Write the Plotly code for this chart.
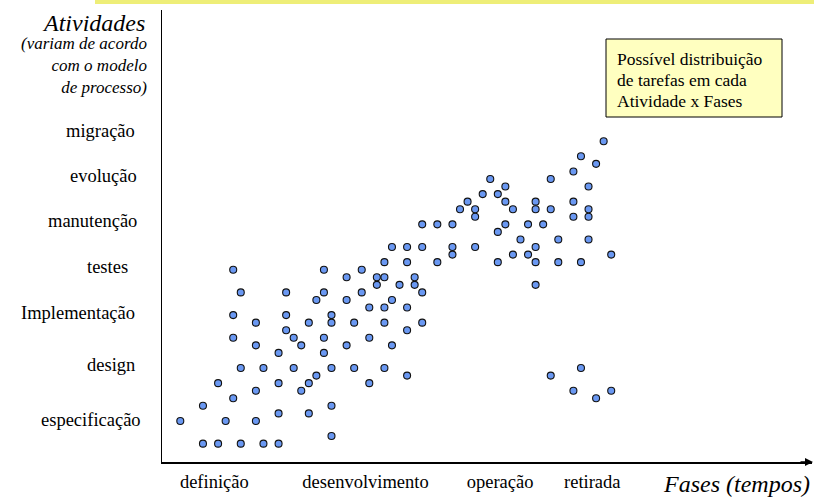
import plotly.graph_objects as go

# ---- data (grid units: phase time on x, activity level on y) ----
phase_time = [3, 5, 8, 11, 13,
              20,
              0, 6, 10,
              13, 17,
              3, 20,
              7, 55,
              10, 16, 52, 57,
              5, 13, 17, 25,
              18, 30, 49,
              8, 11, 15, 20, 23, 27, 53,
              13, 19,
              10, 16, 22, 28,
              7, 15, 19, 25,
              14, 30,
              10, 17, 20, 23, 27, 32,
              7, 14, 20,
              25, 27, 30,
              18, 22, 28,
              8, 14, 19, 24, 32,
              26, 29, 31, 47,
              22, 26, 27, 31,
              7, 19, 24,
              27, 30, 34, 42, 47, 50, 53,
              36, 44, 46, 57,
              28, 30, 32, 36, 39, 47,
              45, 50, 54,
              42,
              32, 34, 36, 43, 46, 48,
              39, 52, 54,
              37, 39, 44, 47, 49, 54,
              38, 43, 47, 52,
              40, 42,
              43, 54,
              41, 49,
              52,
              55,
              53,
              56]
activity = [0, 0, 0, 0, 0,
            1,
            3, 3, 3,
            4, 4,
            5, 5,
            6, 6,
            7, 7, 7, 7,
            8, 8, 8, 8,
            9, 9, 9,
            10, 10, 10, 10, 10, 10, 10,
            12, 12,
            13, 13, 13, 13,
            14, 14, 14, 14,
            15, 15,
            16, 16, 16, 16, 16, 16,
            17, 17, 17,
            18, 18, 18,
            19, 19, 19,
            20, 20, 20, 20, 20,
            21, 21, 21, 21,
            22, 22, 22, 22,
            23, 23, 23,
            24, 24, 24, 24, 24, 24, 24,
            25, 25, 25, 25,
            26, 26, 26, 26, 26, 26,
            27, 27, 27,
            28,
            29, 29, 29, 29, 29, 29,
            30, 30, 30,
            31, 31, 31, 31, 31, 31,
            32, 32, 32, 32,
            33, 33,
            34, 34,
            35, 35,
            36,
            37,
            38,
            40]

activity_labels = ["especificação", "design", "Implementação", "testes",
                   "manutenção", "evolução", "migração"]
activity_levels = [3.1, 10.4, 17.3, 23.4, 29.4, 35.4, 41.4]

phase_labels = ["definição", "desenvolvimento", "operação", "retirada"]
phase_levels = [4.5, 24.5, 42.3, 54.5]

note_lines = ["Possível distribuição", "de tarefas em cada", "Atividade x Fases"]

# layout helpers (pixel positions of page elements)
W, H = 814, 498
L, R, T, B = 162, 2, 10, 36
PW, PH = W - L - R, H - T - B
label_right_px = [143, 137, 137, 130, 139, 139, 137]


def px(p):
    return (p - L) / PW


def py(p):
    return (H - B - p) / PH


SERIF = "Liberation Serif, Times New Roman, serif"
FS = 18.5

fig = go.Figure()
fig.add_trace(go.Scatter(
    x=phase_time, y=activity, mode="markers",
    marker=dict(size=7, color="#6A98F2", line=dict(color="#111111", width=1.1)),
    showlegend=False, hoverinfo="skip"))

fig.update_layout(
    width=W, height=H,
    margin=dict(l=L, r=R, t=T, b=B, autoexpand=False),
    paper_bgcolor="white", plot_bgcolor="white",
    font=dict(family=SERIF, size=FS, color="black"),
    xaxis=dict(range=[-2.42, 83.56], showgrid=False, zeroline=False,
               automargin=False,
               showline=True, linecolor="black", linewidth=1.6,
               tickmode="array", tickvals=phase_levels, ticktext=phase_labels,
               ticks="", ticklabelstandoff=2,
               tickfont=dict(family=SERIF, size=FS, color="black")),
    yaxis=dict(range=[-2.43, 57.35], showgrid=False, zeroline=False,
               automargin=False,
               showline=True, linecolor="black", linewidth=1.4,
               tickmode="array", tickvals=activity_levels,
               showticklabels=False, ticks=""),
)

# activity labels (left of the y axis)
for lab, lev, rpx in zip(activity_labels, activity_levels, label_right_px):
    fig.add_annotation(xref="paper", yref="y", x=px(rpx), y=lev,
                       xanchor="right", yanchor="middle", showarrow=False,
                       text=lab, font=dict(family=SERIF, size=FS))

# yellow band at top
fig.add_shape(type="rect", xref="paper", yref="paper",
              x0=px(95), x1=px(814), y0=py(4), y1=py(0),
              fillcolor="#EEEE78", line=dict(width=0), layer="above")

# arrowhead at end of x axis
fig.add_annotation(xref="paper", yref="paper", x=px(813), y=py(462),
                   ax=-14, ay=0, text="", showarrow=True,
                   arrowhead=2, arrowsize=1, arrowwidth=1.6, arrowcolor="black")

# y-axis title block
fig.add_annotation(xref="paper", yref="paper", x=px(147), y=py(23),
                   xanchor="right", yanchor="middle", showarrow=False,
                   text="<i>Atividades</i>", font=dict(family=SERIF, size=24))
fig.add_annotation(xref="paper", yref="paper", x=px(149), y=py(65),
                   xanchor="right", yanchor="middle", showarrow=False, align="right",
                   text="<i>(variam de acordo<br>com o modelo<br>de processo)</i>",
                   font=dict(family=SERIF, size=17))

# x-axis title
fig.add_annotation(xref="paper", yref="paper", x=px(812), y=py(484),
                   xanchor="right", yanchor="middle", showarrow=False,
                   text="<i>Fases (tempos)</i>", font=dict(family=SERIF, size=24))

# note box
fig.add_shape(type="rect", xref="paper", yref="paper",
              x0=px(606), x1=px(782), y0=py(117), y1=py(39),
              fillcolor="#FFFFC0", line=dict(color="black", width=1), layer="above")
for i, line in enumerate(note_lines):
    fig.add_annotation(xref="paper", yref="paper", x=px(615), y=py(59 + 21 * i),
                       xanchor="left", yanchor="middle", showarrow=False,
                       text=line, font=dict(family=SERIF, size=17.5))

fig.write_html("out.html", config={"displayModeBar": False},
               post_script="document.body.style.margin='0';"
                           "document.body.style.overflow='hidden';")
